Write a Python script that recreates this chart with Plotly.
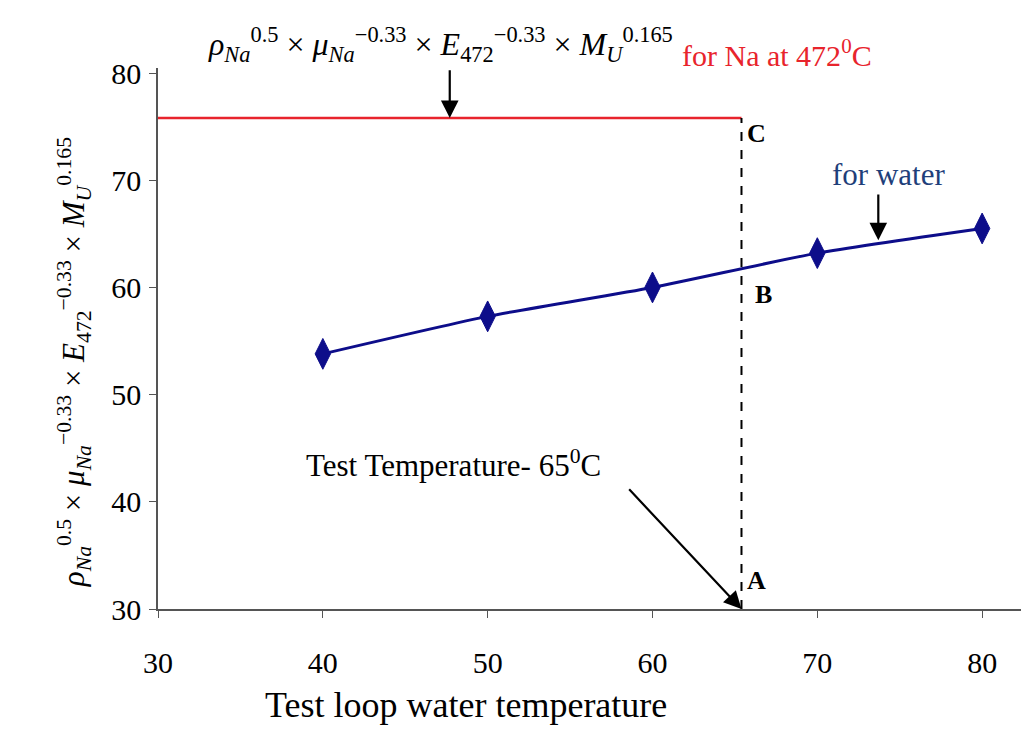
import plotly.graph_objects as go

# water curve
water_temp = [40, 50, 60, 70, 80]
water_val = [53.8, 57.3, 60.0, 63.2, 65.5]

# sodium reference level and test temperature
na_level = 75.8
test_temp = 65.4
x_start = 30
y_start = 30

x_ticks = [30, 40, 50, 60, 70, 80]
y_ticks = [30, 40, 50, 60, 70, 80]

serif = "Liberation Serif"
navy = "#0d0d8a"

formula = ("<i>ρ</i><sub><i>Na</i></sub><sup>0.5</sup> × <i>μ</i><sub><i>Na</i></sub><sup>−0.33</sup>"
           " × <i>E</i><sub>472</sub><sup>−0.33</sup> × <i>M</i><sub><i>U</i></sub><sup>0.165</sup>")

fig = go.Figure()

# red horizontal line for Na
fig.add_trace(go.Scatter(
    x=[x_start, test_temp], y=[na_level, na_level],
    mode="lines", line=dict(color="#e8242c", width=2.5),
    hoverinfo="skip"
))

# dashed vertical at test temperature
fig.add_trace(go.Scatter(
    x=[test_temp, test_temp], y=[y_start, na_level],
    mode="lines", line=dict(color="black", width=2, dash="dash"),
    hoverinfo="skip"
))

# water curve
fig.add_trace(go.Scatter(
    x=water_temp, y=water_val,
    mode="lines+markers",
    line=dict(color=navy, width=3, shape="spline", smoothing=0.6),
    marker=dict(symbol="diamond-tall", size=22, color=navy,
                line=dict(color=navy, width=1)),
))

lbl = dict(family=serif, size=26, color="black")
arr = dict(showarrow=True, arrowhead=2, arrowsize=1.6, arrowwidth=2.2, arrowcolor="black",
           axref="x", ayref="y", text="")
annots = [
    # formula above plot
    dict(x=0.596, y=1.043, xref="paper", yref="paper", text=formula, showarrow=False,
         font=dict(family=serif, size=32, color="black"), xanchor="right", yanchor="middle"),
    dict(x=0.602, y=1.028, xref="paper", yref="paper", text="for Na at 472<sup>0</sup>C",
         showarrow=False, font=dict(family=serif, size=30, color="#e8242c"),
         xanchor="left", yanchor="middle"),
    # axis titles
    dict(x=0.355, y=-0.177, xref="paper", yref="paper", text="Test loop water temperature",
         showarrow=False, font=dict(family=serif, size=36, color="black"), yanchor="middle"),
    dict(x=-0.096, y=53.0, xref="paper", yref="y", text=formula, textangle=-90,
         showarrow=False, font=dict(family=serif, size=31, color="black"), xanchor="center"),
    # arrow formula -> red line
    dict(x=47.7, y=na_level, ax=47.7, ay=80.4, **arr),
    # for water
    dict(x=74.3, y=70.5, text="for water", showarrow=False,
         font=dict(family=serif, size=31, color="#1f3f7a")),
    dict(x=73.7, y=64.4, ax=73.7, ay=68.8, **arr),
    # test temperature
    dict(x=47.9, y=43.6, text="Test Temperature- 65<sup>0</sup>C", showarrow=False,
         font=dict(family=serif, size=31, color="black")),
    dict(x=test_temp, y=y_start, ax=58.5, ay=41.3, **arr),
    # points A, B, C
    dict(x=test_temp, y=y_start + 2.7, text="<b>A</b>", showarrow=False, xshift=4,
         xanchor="left", font=lbl),
    dict(x=test_temp, y=59.3, text="<b>B</b>", showarrow=False, xshift=12,
         xanchor="left", font=lbl),
    dict(x=test_temp, y=74.4, text="<b>C</b>", showarrow=False, xshift=4,
         xanchor="left", font=lbl),
]

fig.update_layout(
    width=1021, height=723,
    margin=dict(l=150, r=4, t=60, b=122),
    plot_bgcolor="white", paper_bgcolor="white",
    showlegend=False,
    annotations=annots,
    font=dict(family=serif, color="black"),
)

fig.update_xaxes(
    range=[30, 82.6], tickvals=x_ticks, ticks="outside", ticklen=7, tickcolor="#555",
    showgrid=False, zeroline=False, showline=True, linecolor="#555", linewidth=1.5,
    tickfont=dict(family=serif, size=30), ticklabelstandoff=19,
)
fig.update_yaxes(
    range=[30, 80.47], tickvals=y_ticks, ticks="outside", ticklen=7, tickcolor="#555",
    showgrid=False, zeroline=False, showline=True, linecolor="#555", linewidth=1.5,
    tickfont=dict(family=serif, size=30), ticklabelstandoff=2,
)

fig.write_html("out.html")
